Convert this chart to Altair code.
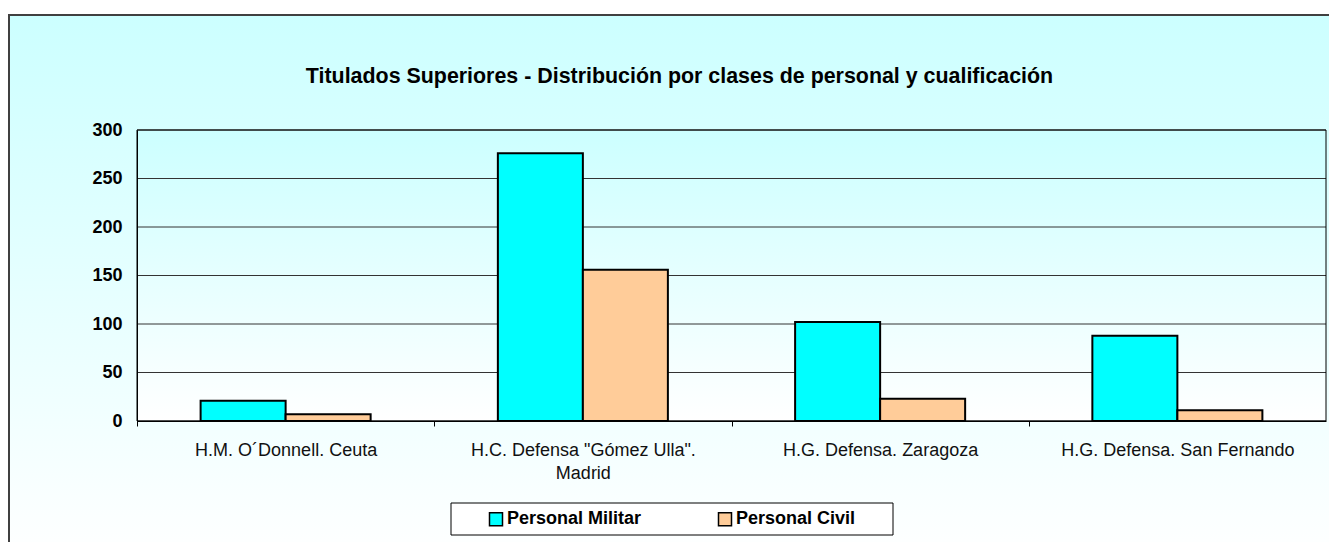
import altair as alt
import pandas as pd

hospitales = [
    "H.M. O´Donnell. Ceuta",
    "H.C. Defensa \"Gómez Ulla\". Madrid",
    "H.G. Defensa. Zaragoza",
    "H.G. Defensa. San Fernando",
]
series = ["Personal Militar", "Personal Civil"]
militar = [21, 276, 102, 88]
civil = [7, 156, 23, 11]
y_ticks = [0, 50, 100, 150, 200, 250, 300]
colors = ["#00FFFF", "#FFCC99"]
title_text = "Titulados Superiores - Distribución por clases de personal y cualificación"

W, H = 1189, 291
FONT = "Liberation Sans"
STEP = W / len(hospitales)

rows = []
for h, m, c in zip(hospitales, militar, civil):
    rows.append({"hospital": h, "serie": series[0], "valor": m})
    rows.append({"hospital": h, "serie": series[1], "valor": c})
df = pd.DataFrame(rows)
one = pd.DataFrame({"k": [0]})

grad = alt.Gradient(
    gradient="linear",
    stops=[alt.GradientStop(color="#CCFFFF", offset=0), alt.GradientStop(color="#FFFFFF", offset=1)],
    x1=0, x2=0, y1=0, y2=1,
)
yscale = alt.Scale(domain=[0, 300], nice=False)
yaxis = alt.Axis(
    title=None, values=y_ticks, grid=False, ticks=False, labelPadding=15,
    labelFontSize=18, labelFontWeight="bold", domainColor="black",
    labelColor="black", zindex=1, labelFont=FONT,
)

outer = alt.Chart(one).mark_rect(fill=grad, stroke="#404040", strokeWidth=2).encode(
    x=alt.value(-128), x2=alt.value(W + 40), y=alt.value(-115), y2=alt.value(H + 140)
)
plotbg = alt.Chart(one).mark_rect(fill=grad).encode(
    x=alt.value(0), x2=alt.value(W), y=alt.value(0), y2=alt.value(H)
)
grid = alt.Chart(pd.DataFrame({"valor": y_ticks})).mark_rule(color="#333333", strokeWidth=1).encode(
    y=alt.Y("valor:Q", scale=yscale, axis=yaxis), x=alt.value(0), x2=alt.value(W)
)

label_expr = ("indexof(datum.value, ' Madrid') > 0 ? "
              "[slice(datum.value, 0, indexof(datum.value, ' Madrid')), 'Madrid'] : datum.value")

bars = alt.Chart(df).mark_bar(stroke="black", strokeWidth=2).encode(
    x=alt.X(
        "hospital:N", sort=hospitales,
        scale=alt.Scale(paddingInner=0.428, paddingOuter=0.214),
        axis=alt.Axis(
            title=None, labelExpr=label_expr, labelFontSize=18, labelPadding=15,
            ticks=True, tickSize=5, tickColor="black", tickWidth=1,
            tickOffset=-STEP / 2, labelOffset=STEP / 2,
            domainColor="black", labelColor="#111111", labelLineHeight=23,
            labelAngle=0, labelLimit=500, zindex=1, labelFont=FONT,
        ),
    ),
    xOffset=alt.XOffset("serie:N", sort=series),
    y=alt.Y("valor:Q", scale=yscale, axis=yaxis),
    fill=alt.Fill(
        "serie:N", sort=series,
        scale=alt.Scale(domain=series, range=colors),
        legend=alt.Legend(
            title=None, orient="none", legendX=350, legendY=380, direction="horizontal",
            labelFont=FONT, labelFontSize=18, labelFontWeight="bold", labelColor="black",
            symbolType="square", symbolSize=169, symbolStrokeColor="black",
            symbolStrokeWidth=1.5, labelOffset=2, columnPadding=73, padding=0,
            labelLimit=400, zindex=2,
        ),
    ),
)

frame = alt.Chart(one).mark_rect(fill="transparent", stroke="black", strokeWidth=1).encode(
    x=alt.value(0), x2=alt.value(W), y=alt.value(0), y2=alt.value(H)
)
legbox = alt.Chart(one).mark_rect(fill="white", stroke="black", strokeWidth=1).encode(
    x=alt.value(314), x2=alt.value(756), y=alt.value(373), y2=alt.value(405)
)

chart = alt.layer(outer, plotbg, grid, bars, frame, legbox).properties(
    width=W, height=H,
    title=alt.TitleParams(
        text=title_text, font=FONT, fontSize=21.4, fontWeight="bold", color="black",
        anchor="middle", frame="group", dx=-52, baseline="alphabetic", offset=0, dy=90,
    ),
    autosize=alt.AutoSizeParams(type="none"),
    padding={"left": 129, "top": 122, "right": 3, "bottom": 121},
).configure_view(strokeWidth=0).configure(font=FONT)

chart.save("out.html", embed_options={"renderer": "svg", "actions": False})
